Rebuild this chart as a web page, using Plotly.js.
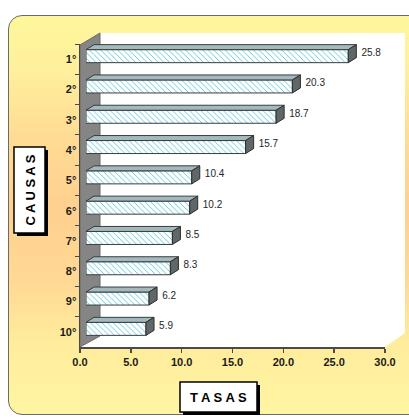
<!DOCTYPE html>
<html><head><meta charset="utf-8">
<script src="https://cdn.plot.ly/plotly-3.0.1.min.js"></script>
<style>
html,body{margin:0;padding:0;width:409px;height:419px;overflow:hidden;background:#ffffff;}
#bg{position:absolute;left:8px;top:15px;width:430px;height:400px;box-sizing:border-box;border:1.5px solid #6a6a6a;border-radius:14px;
background:linear-gradient(to bottom,#fff79c 0%,#ffef9c 14%,#ffdc94 30%,#ffd08f 48%,#ffd894 66%,#ffec9c 82%,#fff5a2 100%);}
#chart{position:absolute;left:0;top:0;width:409px;height:419px;}
</style></head>
<body><div id="bg"></div><div id="chart"></div>
<script>
// ---- data ----
const categories = ['1°','2°','3°','4°','5°','6°','7°','8°','9°','10°'];
const tasas = [25.8, 20.3, 18.7, 15.7, 10.4, 10.2, 8.5, 8.3, 6.2, 5.9];
const xTickVals = [0, 5, 10, 15, 20, 25, 30];
const xTickText = ['0.0', '5.0', '10.0', '15.0', '20.0', '25.0', '30.0'];
const xTitle = 'T A S A S';
const yTitle = 'C A U S A S';

// ---- geometry / style ----
const W = 409, H = 419, L = 80, R = 4, T = 33, B = 72;
const plotW = W - L - R, plotH = H - T - B;
const px = x => (x - L) / plotW;
const py = y => (H - B - y) / plotH;

const idx = categories.map((c, i) => i);
const bw = 0.43;          // bar thickness (category units)
const dx = 0.79;          // 3D depth in x units
const dy = 0.165;         // 3D depth in category units
const h = bw / 2;

const topX = [], topY = [], sideX = [], sideY = [];
tasas.forEach((v, i) => {
  topX.push(0, v, v + dx, dx, 0, null);
  topY.push(i - h, i - h, i - h - dy, i - h - dy, i - h, null);
  sideX.push(v, v + dx, v + dx, v, v, null);
  sideY.push(i - h, i - h - dy, i + h - dy, i + h, i - h, null);
});

const traces = [
  {
    type: 'bar', orientation: 'h', x: tasas, y: idx, xaxis: 'x2', yaxis: 'y2',
    width: bw,
    marker: {
      color: '#ffffff',
      pattern: {shape: '\\', fgcolor: '#52c6d8', bgcolor: '#ffffff', size: 4, solidity: 0.22},
      line: {color: '#3c3c3c', width: 1}
    },
    hoverinfo: 'x', showlegend: false
  },
  {
    type: 'scatter', mode: 'lines', x: topX, y: topY, xaxis: 'x2', yaxis: 'y2',
    fill: 'toself', fillcolor: '#a2babd', line: {color: '#3c3c3c', width: 1},
    hoverinfo: 'skip', showlegend: false
  },
  {
    type: 'scatter', mode: 'lines', x: sideX, y: sideY, xaxis: 'x2', yaxis: 'y2',
    fill: 'toself', fillcolor: '#5f6767', line: {color: '#2e2e2e', width: 1},
    hoverinfo: 'skip', showlegend: false
  },
  {
    type: 'scatter', mode: 'text', x: tasas.map(v => v + dx + 0.5), y: idx.map(i => i - dy / 2),
    xaxis: 'x2', yaxis: 'y2',
    text: tasas.map(v => v.toFixed(1)), textposition: 'middle right',
    textfont: {family: 'Liberation Sans, Arial, sans-serif', size: 10, color: '#262626'},
    hoverinfo: 'skip', showlegend: false, cliponaxis: false
  },
  {
    type: 'scatter', mode: 'markers', x: categories.map(() => 0), y: categories,
    marker: {opacity: 0}, hoverinfo: 'skip', showlegend: false
  }
];

const tickFont = {family: 'Liberation Sans, Arial, sans-serif', size: 11, color: '#1a1a1a', weight: 'bold'};
const titleFont = {family: 'Liberation Sans, Arial, sans-serif', size: 13, color: '#000', weight: 'bold'};

function box(x0, y0, x1, y1, fill, line) {
  return {type: 'rect', xref: 'paper', yref: 'paper', layer: 'above',
    x0: px(x0), x1: px(x1), y0: py(y1), y1: py(y0),
    fillcolor: fill, line: line};
}

const layout = {
  width: W, height: H,
  margin: {l: L, r: R, t: T, b: B, pad: 0},
  paper_bgcolor: 'rgba(0,0,0,0)',
  plot_bgcolor: 'rgba(0,0,0,0)',
  showlegend: false,
  xaxis: {
    domain: [0, px(385)], range: [0, 30], anchor: 'y',
    tickvals: xTickVals, ticktext: xTickText,
    showline: true, linecolor: '#4a4a4a', linewidth: 2,
    ticks: 'outside', ticklen: 4, tickcolor: '#4a4a4a', tickwidth: 1.5,
    showgrid: false, zeroline: false, tickfont: tickFont, fixedrange: true
  },
  yaxis: {
    domain: [0, py(44)], type: 'category', categoryorder: 'array', categoryarray: categories,
    range: [9.5, -0.5], anchor: 'x', tickson: 'boundaries',
    showline: true, linecolor: '#4a4a4a', linewidth: 1.5,
    ticks: 'outside', ticklen: 4, tickcolor: '#4a4a4a', tickwidth: 1,
    showgrid: false, zeroline: false, tickfont: tickFont, fixedrange: true
  },
  xaxis2: {
    domain: [px(86), px(391)], range: [0, 30], anchor: 'y2',
    visible: false, showgrid: false, zeroline: false, fixedrange: true
  },
  yaxis2: {
    domain: [py(344), py(41)], range: [9.5, -0.5], anchor: 'x2',
    visible: false, showgrid: false, zeroline: false, fixedrange: true
  },
  shapes: [
    {
      type: 'path', xref: 'paper', yref: 'paper', layer: 'below',
      path: `M ${px(100)} ${py(33)} L ${px(405)} ${py(33)} L ${px(405)} ${py(333)} L ${px(385)} ${py(347)} L ${px(80)} ${py(347)} L ${px(80)} ${py(45)} Z`,
      fillcolor: '#ffffff', line: {width: 0}
    },
    {
      type: 'path', xref: 'paper', yref: 'paper', layer: 'below',
      path: `M ${px(80)} ${py(347)} L ${px(80)} ${py(45)} L ${px(100)} ${py(33)} L ${px(100)} ${py(336)} Z`,
      fillcolor: '#858585', line: {color: '#6a6a6a', width: 1}
    },
    // title boxes with drop shadows
    box(17, 150, 48, 236, '#000000', {width: 0}),
    box(14, 147, 45, 233, '#ffffff', {color: '#000000', width: 1.5}),
    box(183, 385, 260, 415, '#000000', {width: 0}),
    box(180, 382, 257, 412, '#ffffff', {color: '#000000', width: 1.5})
  ],
  annotations: [
    {
      xref: 'paper', yref: 'paper', x: px(29.5), y: py(190), xanchor: 'center', yanchor: 'middle',
      text: yTitle, textangle: -90, showarrow: false, font: titleFont
    },
    {
      xref: 'paper', yref: 'paper', x: px(218.5), y: py(397), xanchor: 'center', yanchor: 'middle',
      text: xTitle, showarrow: false, font: titleFont
    }
  ]
};

Plotly.newPlot('chart', traces, layout, {displayModeBar: false, staticPlot: true});
</script>
</body></html>
